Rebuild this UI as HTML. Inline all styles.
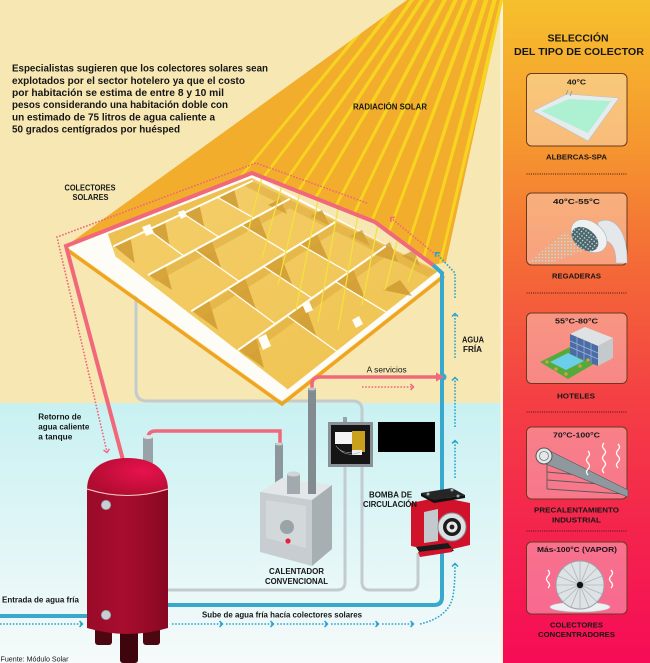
<!DOCTYPE html>
<html><head><meta charset="utf-8">
<style>
html,body{margin:0;padding:0;background:#f6e7b3;}
svg{display:block;}
text{font-family:"Liberation Sans",Arial,sans-serif;fill:#161616;}
.b{font-weight:bold;}
</style></head><body>
<svg width="650" height="663" viewBox="0 0 650 663" xmlns="http://www.w3.org/2000/svg">
<defs>
<linearGradient id="cy" x1="0" y1="0" x2="0" y2="1"><stop offset="0" stop-color="#c9f1f2"/><stop offset="1" stop-color="#f6fafa"/></linearGradient>
<linearGradient id="rp" x1="0" y1="0" x2="0" y2="1">
<stop offset="0" stop-color="#f6c02c"/>
<stop offset="0.22" stop-color="#f5962f"/>
<stop offset="0.4" stop-color="#f46a37"/>
<stop offset="0.6" stop-color="#f44044"/>
<stop offset="0.8" stop-color="#f4244d"/>
<stop offset="1" stop-color="#f60c56"/>
</linearGradient>
<linearGradient id="tank" x1="0" y1="0" x2="1" y2="0"><stop offset="0" stop-color="#9a0a28"/><stop offset="0.45" stop-color="#a80d2f"/><stop offset="1" stop-color="#880822"/></linearGradient>
<radialGradient id="dome" cx="0.68" cy="0.35" r="0.7"><stop offset="0" stop-color="#e8124c"/><stop offset="1" stop-color="#b00c31"/></radialGradient>
<linearGradient id="pyl" x1="0" y1="0" x2="1" y2="1"><stop offset="0" stop-color="#f4cf6c"/><stop offset="1" stop-color="#efc24f"/></linearGradient>
<clipPath id="beamclip"><polygon points="407,0 503,0 446,262 433,265 375,222 252,173 66,246"/></clipPath>
<pattern id="dots" width="3.2" height="3.2" patternUnits="userSpaceOnUse"><circle cx="1.6" cy="1.6" r="0.75" fill="#9ff3ee"/></pattern>
<marker id="ab" markerWidth="8" markerHeight="8" refX="4" refY="4" orient="auto" markerUnits="userSpaceOnUse"><path d="M1.5,1 L4.5,4 L1.5,7" fill="none" stroke="#2aa3cc" stroke-width="1.5"/></marker>
<marker id="ap" markerWidth="8" markerHeight="8" refX="4" refY="4" orient="auto" markerUnits="userSpaceOnUse"><path d="M1.5,1 L4.5,4 L1.5,7" fill="none" stroke="#f0667a" stroke-width="1.5"/></marker>
</defs>

<!-- backgrounds -->
<rect x="0" y="0" width="503" height="403" fill="#f6e7b3"/>
<rect x="0" y="403" width="503" height="260" fill="url(#cy)"/>
<rect x="500.5" y="0" width="2.5" height="663" fill="#fbf4e0"/>
<rect x="503" y="0" width="147" height="663" fill="url(#rp)"/>

<!-- beam -->
<polygon points="407,0 503,0 446,262 433,265 375,222 252,173 66,246" fill="#f2ad2d"/>
<g clip-path="url(#beamclip)" fill="#f7d41f">
<polygon points="392.6,-10 397.2,-10 156.4,280 153.8,280"/>
<polygon points="404.3,-10 408.9,-10 186,280 183.4,280"/>
<polygon points="416.6,-10 421.2,-10 217.7,280 215.1,280"/>
<polygon points="426,-10 430.6,-10 242,280 239.4,280"/>
<polygon points="436.1,-10 440.7,-10 268.1,280 265.5,280"/>
<polygon points="447.7,-10 452.3,-10 297.9,280 295.3,280"/>
<polygon points="458,-10 462.6,-10 323.8,280 321.2,280"/>
<polygon points="467.4,-10 472,-10 348,280 345.4,280"/>
<polygon points="476.8,-10 481.4,-10 372.2,280 369.6,280"/>
<polygon points="487,-10 491.6,-10 398.3,280 395.7,280"/>
<polygon points="495,-10 499.6,-10 418.8,280 416.2,280"/>
<polygon points="502.2,-10 506.8,-10 437.6,280 435,280"/>
</g>

<!-- pink dotted outer line -->
<polyline points="367,203 256,163 57,237 107,452" fill="none" stroke="#f0667a" stroke-width="1.6" stroke-dasharray="1.6 1.6" marker-end="url(#ap)"/>

<!-- grey pipe behind panel -->
<path d="M136,292 L136,390 Q136,401 147,401 L352,401 Q362,401 362,410 L362,582 Q362,590 370,590 L410,590 Q418,590 418,582 L418,553" fill="none" stroke="#c3cbcf" stroke-width="3"/>
<path d="M345,467 L345,582 Q345,590 337,590 L168,590" fill="none" stroke="#c3cbcf" stroke-width="3"/>

<!-- collector panel -->
<polyline points="66,249 282,404 444,276" fill="none" stroke="#f0a521" stroke-width="3.5"/>
<polygon points="66,246 252,174 443,274 282,401" fill="#fdfcf6"/>
<polygon points="108,234 252,178 438,271 287,390 116,258 112,246" fill="url(#pyl)"/>
<polygon points="108,234 252,178 252,181 114,246 112,246" fill="#e9b844" opacity="0.6"/>
<!-- shading wedges -->
<g fill="#c9922a" opacity="0.7">
<polygon points="148.5,229.8 165.1,222 169.6,245.5"/>
<polygon points="183,213.5 199.6,205.7 204.5,227.6"/>
<polygon points="217.5,197.3 234.1,189.5 239.3,209.8"/>
<polygon points="194.9,249.9 211.7,240.8 221.5,268.9"/>
<polygon points="241.3,224.9 258.1,215.8 268.4,241.3"/>
<polygon points="227.8,288.6 245,277.9 256.3,309.8"/>
<polygon points="263.6,266.4 280.8,255.7 292.6,285.4"/>
<polygon points="299.5,244.2 316.7,233.5 329,261.1"/>
<polygon points="287,315.6 304.6,303.2 316.7,336.9"/>
<polygon points="335.4,281.6 353,269.2 365.8,299.9"/>
<polygon points="114,246 130.6,238.2 134.8,263.3"/>
<polygon points="148.6,274.8 165.4,265.7 172,290"/>
<polygon points="191.9,310.8 209,300 218,330"/>
<polygon points="238.6,349.7 256,337.3 264,368"/>
<polygon points="372,254 390,242 398,262"/>
<polygon points="383,290 400,280 412,296"/>
<polygon points="268,205 280,199 287,214"/>
<polygon points="310,216 322,210 330,226"/>
<polygon points="350,236 362,230 370,246"/>
<polygon points="402,256 414,250 420,266"/>
</g>
<g fill="#dca83a" opacity="0.5">
<polygon points="252,181 289,199.2 280,204 245,186"/>
<polygon points="289,199.2 335.3,222 326,227 281,204"/>
<polygon points="335.3,222 385.2,246.5 376,252 327,227"/>
<polygon points="385.2,246.5 437,272 428,277 377,252"/>
<polygon points="150,276 290,200 292,207 156,282"/>
<polygon points="194,312 336,223 338,230 200,318"/>
<polygon points="240,351 386,248 388,255 246,357"/>
</g>
<!-- white grid lines -->
<g stroke="#fffdf5" stroke-width="2" fill="none" stroke-linecap="round">
<line x1="114" y1="246" x2="252" y2="181"/>
<line x1="148.6" y1="274.8" x2="289" y2="199.2"/>
<line x1="191.9" y1="310.8" x2="335.3" y2="222"/>
<line x1="238.6" y1="349.7" x2="385.2" y2="246.5"/>
<line x1="116" y1="258" x2="287" y2="390"/>
</g>
<g stroke="#fffdf5" stroke-width="1.3" fill="none">
<line x1="148.5" y1="229.8" x2="183.7" y2="255.9"/>
<line x1="183" y1="213.5" x2="218.8" y2="237"/>
<line x1="217.5" y1="197.3" x2="253.9" y2="218.1"/>
<line x1="194.9" y1="249.9" x2="239.2" y2="281.5"/>
<line x1="241.3" y1="224.9" x2="286.5" y2="252.2"/>
<line x1="227.8" y1="288.6" x2="275.3" y2="323.9"/>
<line x1="263.6" y1="266.4" x2="311.9" y2="298.1"/>
<line x1="299.5" y1="244.2" x2="348.6" y2="272.3"/>
<line x1="287" y1="315.6" x2="336.5" y2="351.1"/>
<line x1="335.4" y1="281.6" x2="386" y2="312.1"/>
</g>
<g fill="#fffdf5">
<polygon points="142,227 150,224 154,233 146,236"/>
<polygon points="178,212 184,210 187,216 181,219"/>
<polygon points="258,338 266,334 271,346 263,350"/>
<polygon points="302,304 309,301 313,310 306,313"/>
<polygon points="352,320 359,316 363,324 356,328"/>
</g>
<!-- rays over panel -->
<g stroke="#f3e33a" stroke-width="1.2">
<line x1="262" y1="177" x2="248" y2="232"/>
<line x1="282" y1="185" x2="262" y2="258"/>
<line x1="300" y1="192" x2="278" y2="285"/>
<line x1="318" y1="200" x2="296" y2="310"/>
<line x1="338" y1="208" x2="318" y2="322"/>
<line x1="358" y1="215" x2="338" y2="330"/>
<line x1="378" y1="224" x2="362" y2="305"/>
<line x1="398" y1="238" x2="385" y2="290"/>
<line x1="418" y1="253" x2="408" y2="282"/>
</g>

<!-- pink main line -->
<polyline points="123,460 66,246 252,173 375,222 433,265" fill="none" stroke="#f0687a" stroke-width="4" stroke-linejoin="miter"/>
<!-- blue main line -->
<path d="M433,265 L442,273 L442,597 Q442,605 434,605 L168,605" fill="none" stroke="#38a8cc" stroke-width="4"/>
<line x1="0" y1="616" x2="88" y2="616" stroke="#38a8cc" stroke-width="4"/>

<!-- pink dotted arrow right -->
<line x1="436" y1="255" x2="391" y2="218" stroke="#f0667a" stroke-width="1.6" stroke-dasharray="1.6 1.6" marker-end="url(#ap)"/>
<!-- blue dotted -->
<g stroke="#2aa3cc" stroke-width="1.6" stroke-dasharray="1.6 1.6" fill="none">
<polyline points="455,298 455,273 436,253" marker-end="url(#ab)"/>
<line x1="455" y1="358" x2="455" y2="314" marker-end="url(#ab)"/>
<line x1="455" y1="427" x2="455" y2="378" marker-end="url(#ab)"/>
<line x1="455" y1="478" x2="455" y2="441" marker-end="url(#ab)"/>
<path d="M420,624 Q446,618 452,600 Q455,590 455,564" marker-end="url(#ab)"/>
<line x1="172" y1="624" x2="222" y2="624" marker-end="url(#ab)"/>
<line x1="226" y1="624" x2="273" y2="624" marker-end="url(#ab)"/>
<line x1="277" y1="624" x2="327" y2="624" marker-end="url(#ab)"/>
<line x1="331" y1="624" x2="378" y2="624" marker-end="url(#ab)"/>
<line x1="382" y1="624" x2="413" y2="624" marker-end="url(#ab)"/>
<line x1="0" y1="624" x2="82" y2="624" marker-end="url(#ab)"/>
</g>
<line x1="362" y1="387" x2="413" y2="387" stroke="#f0667a" stroke-width="1.6" stroke-dasharray="1.6 1.6" marker-end="url(#ap)"/>

<!-- pink pipes -->
<path d="M148,440 L148,438 Q148,431 156,431 L280,431 L280,445" fill="none" stroke="#f0687a" stroke-width="3.5"/>
<path d="M312,392 L312,384 Q312,377 320,377 L438,377" fill="none" stroke="#f0687a" stroke-width="3.5"/>
<circle cx="443" cy="377" r="3.5" fill="#38a8cc"/>
<polygon points="436,372.5 444,377 436,381.5" fill="#f0687a"/>

<!-- tank -->
<rect x="95" y="622" width="17" height="23" rx="3" fill="#4d0711"/>
<rect x="143" y="622" width="17" height="23" rx="3" fill="#4d0711"/>
<rect x="120" y="625" width="18" height="38" rx="3" fill="#3e050d"/>
<rect x="143" y="437" width="10" height="26" fill="#98a2a7"/>
<ellipse cx="148" cy="437" rx="5" ry="2" fill="#dfe4e6"/>
<path d="M87,488 L87,628 Q127.5,640 168,628 L168,488 Z" fill="url(#tank)"/>
<path d="M87,490 C87,468 104,458 127.5,458 C151,458 168,468 168,490 Q127.5,502 87,490 Z" fill="url(#dome)"/>
<path d="M87,489 Q127.5,502 168,489" fill="none" stroke="#f6d2c6" stroke-width="1"/>
<circle cx="106" cy="505" r="4.7" fill="#c9cfd2" stroke="#8d979c" stroke-width="0.8"/>
<circle cx="106" cy="615" r="4.7" fill="#c9cfd2" stroke="#8d979c" stroke-width="0.8"/>

<!-- calentador -->
<rect x="275" y="443" width="8" height="45" fill="#8d969b"/>
<ellipse cx="279" cy="444" rx="4" ry="1.5" fill="#c9d0d3"/>
<polygon points="260,492 282,478 332,485 312,500" fill="#e3e7e9"/>
<polygon points="260,492 312,500 312,566 260,552" fill="#c7cdd0"/>
<polygon points="312,500 332,485 332,549 312,566" fill="#a7afb3"/>
<polygon points="266,500 306,506 306,548 266,538" fill="#d3d8da"/>
<rect x="287" y="474" width="13" height="20" fill="#a2aaaf"/>
<ellipse cx="293.5" cy="474" rx="6.5" ry="2.5" fill="#cfd5d8"/>
<rect x="308" y="388" width="8" height="106" fill="#818b90"/>
<ellipse cx="312" cy="389" rx="4" ry="1.5" fill="#c0c7ca"/>
<circle cx="287" cy="527" r="7" fill="#9aa3a8"/>
<circle cx="288" cy="541" r="2.6" fill="#e8203a"/>

<!-- junction box -->
<rect x="343" y="417" width="4" height="5" fill="#9aa2a6"/>
<rect x="328" y="422" width="45" height="45" fill="#8a9195"/>
<rect x="331" y="425" width="39" height="39" fill="#151515"/>
<rect x="335" y="432" width="17" height="12" fill="#f4f4f4"/>
<rect x="352" y="431" width="13" height="21" fill="#c9a11d"/>
<rect x="352" y="450" width="10" height="5" fill="#f0f0f0"/>
<path d="M336,446 q6,8 16,6 M338,448 q8,10 22,4" stroke="#aaa" stroke-width="0.6" fill="none"/>
<rect x="378" y="422" width="57" height="30" fill="#000"/>

<!-- pump -->
<polygon points="411,503 440,497 470,503 470,545 440,552 411,546" fill="#d0132b"/>
<polygon points="421,493 452,488 465,495 434,500" fill="#262626"/>
<polygon points="421,493 434,500 465,495 465,498 434,503 421,496" fill="#111"/>
<circle cx="428" cy="494" r="1.5" fill="#9aa"/><circle cx="452" cy="490" r="1.5" fill="#9aa"/><circle cx="458" cy="496" r="1.5" fill="#9aa"/>
<polygon points="424,512 438,509 438,541 424,543" fill="#c3c9cd"/>
<circle cx="452" cy="527" r="14" fill="#dde1e4" stroke="#8a9399" stroke-width="1"/>
<circle cx="452" cy="527" r="9" fill="#1c1c1c"/>
<circle cx="452" cy="527" r="5.5" fill="#e8e8e8"/>
<circle cx="452" cy="527" r="2.4" fill="#222"/>
<polygon points="416,547 448,543 454,551 421,555" fill="#1a1a1a"/>
<polygon points="418,552 452,548 452,552 420,557" fill="#d0132b"/>

<!-- left texts -->
<g class="b" font-size="10">
<text x="12" y="71.5" textLength="256" lengthAdjust="spacingAndGlyphs">Especialistas sugieren que los colectores solares sean</text>
<text x="12" y="83.8" textLength="233" lengthAdjust="spacingAndGlyphs">explotados por el sector hotelero ya que el costo</text>
<text x="12" y="96" textLength="212" lengthAdjust="spacingAndGlyphs">por habitación se estima de entre 8 y 10 mil</text>
<text x="12" y="108.2" textLength="216" lengthAdjust="spacingAndGlyphs">pesos considerando una habitación doble con</text>
<text x="12" y="120.4" textLength="203" lengthAdjust="spacingAndGlyphs">un estimado de 75 litros de agua caliente a</text>
<text x="12" y="132.6" textLength="168" lengthAdjust="spacingAndGlyphs">50 grados centígrados por huésped</text>
</g>
<g class="b" font-size="8">
<text x="353" y="109.3" textLength="74" lengthAdjust="spacingAndGlyphs">RADIACIÓN SOLAR</text>
<text x="64.5" y="190.7" textLength="51" lengthAdjust="spacingAndGlyphs">COLECTORES</text>
<text x="72.5" y="200" textLength="36" lengthAdjust="spacingAndGlyphs">SOLARES</text>
<text x="462" y="342.3" textLength="22" lengthAdjust="spacingAndGlyphs">AGUA</text>
<text x="463" y="352" textLength="19" lengthAdjust="spacingAndGlyphs">FRÍA</text>
<text x="38.3" y="419.5" textLength="43" lengthAdjust="spacingAndGlyphs">Retorno de</text>
<text x="38.3" y="429.5" textLength="51" lengthAdjust="spacingAndGlyphs">agua caliente</text>
<text x="38.3" y="439.5" textLength="34" lengthAdjust="spacingAndGlyphs">a tanque</text>
<text x="369" y="497.3" textLength="43" lengthAdjust="spacingAndGlyphs">BOMBA DE</text>
<text x="363" y="507" textLength="54" lengthAdjust="spacingAndGlyphs">CIRCULACIÓN</text>
<text x="269" y="574" textLength="55" lengthAdjust="spacingAndGlyphs">CALENTADOR</text>
<text x="265" y="584" textLength="63" lengthAdjust="spacingAndGlyphs">CONVENCIONAL</text>
<text x="2" y="602.3" textLength="77" lengthAdjust="spacingAndGlyphs">Entrada de agua fría</text>
<text x="202" y="617.5" textLength="160" lengthAdjust="spacingAndGlyphs">Sube de agua fría hacía colectores solares</text>
</g>
<text x="366.7" y="372.3" font-size="8" textLength="40" lengthAdjust="spacingAndGlyphs">A servicios</text>
<text x="0.5" y="661.5" font-size="7" textLength="68" lengthAdjust="spacingAndGlyphs">Fuente: Módulo Solar</text>

<!-- right panel content -->
<g class="b">
<text x="547.5" y="41.7" font-size="10" textLength="61" lengthAdjust="spacingAndGlyphs">SELECCIÓN</text>
<text x="514" y="55" font-size="10" textLength="130" lengthAdjust="spacingAndGlyphs">DEL TIPO DE COLECTOR</text>
</g>
<g fill="#ffffff" fill-opacity="0.36" stroke="#6b3a1c" stroke-width="1">
<rect x="526.5" y="73.5" width="100.5" height="72.5" rx="5"/>
<rect x="526.5" y="193" width="100.5" height="72" rx="5"/>
<rect x="526.5" y="313" width="100.5" height="70.5" rx="5"/>
<rect x="526.5" y="427" width="100.5" height="72" rx="5"/>
<rect x="526.5" y="542" width="100.5" height="72" rx="5"/>
</g>
<g stroke="#3a1a10" stroke-width="1" stroke-dasharray="1 1.2">
<line x1="526.5" y1="174" x2="627" y2="174"/>
<line x1="526.5" y1="293" x2="627" y2="293"/>
<line x1="526.5" y1="412" x2="627" y2="412"/>
<line x1="526.5" y1="531" x2="627" y2="531"/>
</g>

<!-- card1 pool -->
<polygon points="533,111 567,94 619,98 588,141" fill="#e6ecee" stroke="#b8c1c5" stroke-width="0.6"/>
<polygon points="541,111 569,99 611,101 588,133" fill="#aef0d2"/>
<path d="M566,95 l2,-5 M570,96 l2,-5" stroke="#8a9396" stroke-width="0.8"/>
<!-- card2 shower -->
<polygon points="565,232 585,250 548,264 528,262" fill="url(#dots)"/>
<path d="M598,222 C616,214 628,234 627,263 L616,263 C616,246 610,238 598,241 Z" fill="#e4e8ea" stroke="#b0b8bc" stroke-width="0.6"/>
<ellipse cx="589" cy="236" rx="20" ry="14" transform="rotate(38 589 236)" fill="#eef1f2" stroke="#aab2b6" stroke-width="0.6"/>
<ellipse cx="585" cy="239" rx="15" ry="10" transform="rotate(38 585 239)" fill="#56626a"/>
<ellipse cx="585" cy="239" rx="15" ry="10" transform="rotate(38 585 239)" fill="url(#dots)"/>
<!-- card3 hotel -->
<polygon points="540,362 570,347 599,361 568,379" fill="#57aa3a"/>
<polygon points="550,362 568,353 584,361 566,370" fill="#6ccfea"/>
<polygon points="570,334 585,327 613,338 598,346" fill="#dfe2e4"/>
<polygon points="570,334 598,346 598,366 570,354" fill="#4b6da6"/>
<polygon points="598,346 613,338 613,358 598,366" fill="#c4c9cc"/>
<g stroke="#9fb6d8" stroke-width="0.7"><line x1="570" y1="341" x2="598" y2="353"/><line x1="570" y1="347" x2="598" y2="359"/><line x1="577" y1="337" x2="577" y2="357"/><line x1="584" y1="340" x2="584" y2="360"/><line x1="591" y1="343" x2="591" y2="363"/></g>
<g fill="#c9a24a"><circle cx="547" cy="362" r="1.8"/><circle cx="556" cy="369" r="1.8"/><circle cx="566" cy="374" r="1.8"/><circle cx="580" cy="366" r="1.8"/><circle cx="588" cy="360" r="1.8"/></g>
<!-- card4 heater -->
<g stroke="#5a5a5a" stroke-width="0.9" fill="none">
<line x1="547" y1="462" x2="547" y2="489"/>
<line x1="547" y1="489" x2="624" y2="494"/>
<line x1="547" y1="472" x2="590" y2="476"/>
<line x1="547" y1="480" x2="600" y2="484"/>
</g>
<polygon points="546,449 628,490 628,497 546,464" fill="#8f989e" stroke="#555" stroke-width="0.6"/>
<circle cx="544" cy="456" r="8" fill="#e4e8ea" stroke="#555" stroke-width="1"/>
<circle cx="544" cy="456" r="4.5" fill="none" stroke="#777" stroke-width="0.8"/>
<g stroke="#ffffff" stroke-width="1.3" fill="none">
<path d="M588,475 q-3,-3 0,-6 q3,-3 0,-6 q-3,-3 0,-6 q3,-3 0,-6"/>
<path d="M604,473 q-3,-3 0,-6 q3,-3 0,-6 q-3,-3 0,-6 q3,-3 0,-6 q-3,-3 0,-6"/>
<path d="M618,468 q-3,-3 0,-6 q3,-3 0,-6 q-3,-3 0,-6 q3,-3 0,-6"/>
</g>
<!-- card5 dish -->
<ellipse cx="580" cy="607" rx="30" ry="5" fill="#eef1f2" stroke="#b9c0c4" stroke-width="0.6"/>
<rect x="574" y="598" width="12" height="9" fill="#cdd3d6"/>
<circle cx="580" cy="585" r="24" fill="#dde2e5" stroke="#9aa3a8" stroke-width="1"/>
<g stroke="#aeb6bb" stroke-width="0.8">
<line x1="556" y1="585" x2="604" y2="585"/><line x1="580" y1="561" x2="580" y2="609"/>
<line x1="563" y1="568" x2="597" y2="602"/><line x1="597" y1="568" x2="563" y2="602"/>
<line x1="558" y1="576" x2="602" y2="594"/><line x1="558" y1="594" x2="602" y2="576"/>
<line x1="571" y1="563" x2="589" y2="607"/><line x1="589" y1="563" x2="571" y2="607"/>
</g>
<circle cx="580" cy="585" r="3.2" fill="#111"/>
<g stroke="#ffffff" stroke-width="1.3" fill="none">
<path d="M548,570 q3,3 0,6 q-3,3 0,6 q3,3 0,6"/>
<path d="M611,570 q3,3 0,6 q-3,3 0,6 q3,3 0,6"/>
</g>

<g class="b" font-size="7.5">
<text x="567" y="84.3" textLength="19" lengthAdjust="spacingAndGlyphs">40°C</text>
<text x="546" y="159.3" textLength="61" lengthAdjust="spacingAndGlyphs">ALBERCAS-SPA</text>
<text x="553" y="204" textLength="47" lengthAdjust="spacingAndGlyphs">40°C-55°C</text>
<text x="552" y="278.7" textLength="49" lengthAdjust="spacingAndGlyphs">REGADERAS</text>
<text x="555" y="323.3" textLength="43" lengthAdjust="spacingAndGlyphs">55°C-80°C</text>
<text x="557" y="398.3" textLength="38" lengthAdjust="spacingAndGlyphs">HOTELES</text>
<text x="553" y="437.7" textLength="47" lengthAdjust="spacingAndGlyphs">70°C-100°C</text>
<text x="534" y="512.7" textLength="85" lengthAdjust="spacingAndGlyphs">PRECALENTAMIENTO</text>
<text x="552" y="522.7" textLength="49" lengthAdjust="spacingAndGlyphs">INDUSTRIAL</text>
<text x="537" y="552" textLength="80" lengthAdjust="spacingAndGlyphs">Más-100°C (VAPOR)</text>
<text x="550" y="627.7" textLength="53" lengthAdjust="spacingAndGlyphs">COLECTORES</text>
<text x="538" y="637" textLength="77" lengthAdjust="spacingAndGlyphs">CONCENTRADORES</text>
</g>
</svg>
</body></html>
